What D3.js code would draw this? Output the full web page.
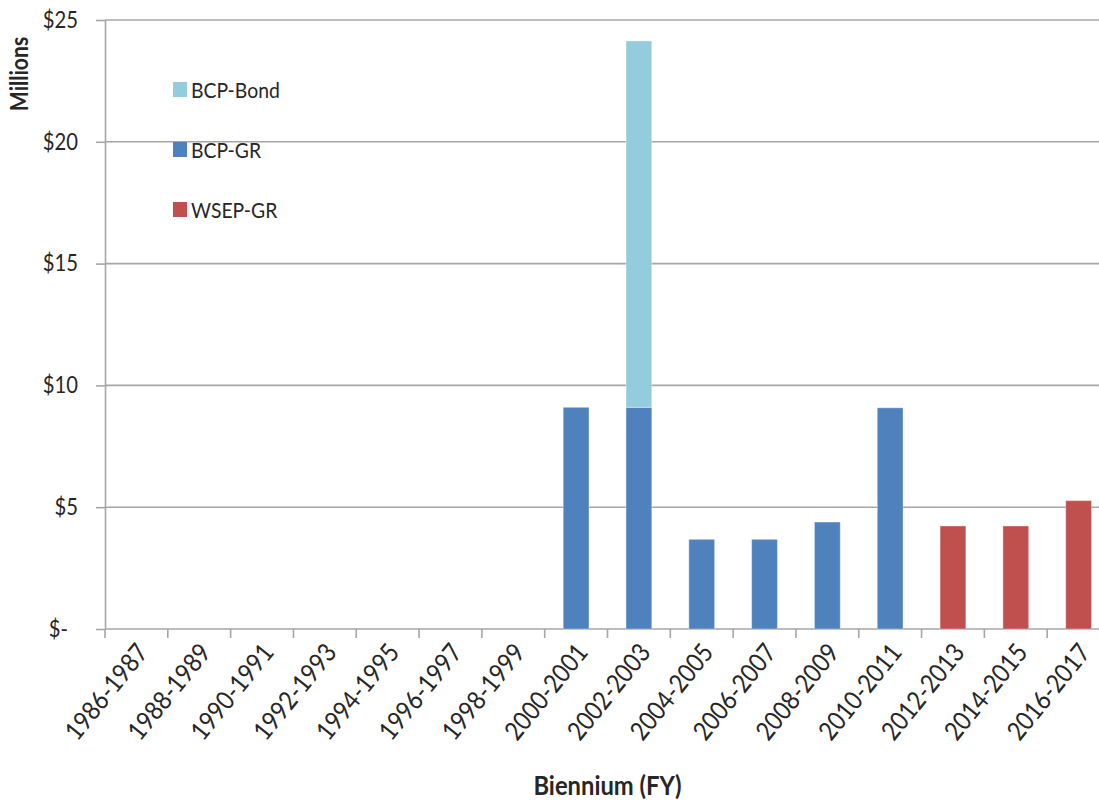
<!DOCTYPE html>
<html>
<head>
<meta charset="utf-8">
<script src="https://cdn.jsdelivr.net/npm/d3@7"></script>
<style>
  html, body { margin: 0; padding: 0; background: #ffffff; }
  svg { display: block; }
  text { font-family: Lato, "Open Sans", sans-serif; fill: #262626; }
</style>
</head>
<body>
<svg id="chart" width="1099" height="801"></svg>
<script>
// Biennia on the x axis
const categories = [
  "1986-1987", "1988-1989", "1990-1991", "1992-1993", "1994-1995",
  "1996-1997", "1998-1999", "2000-2001", "2002-2003", "2004-2005",
  "2006-2007", "2008-2009", "2010-2011", "2012-2013", "2014-2015",
  "2016-2017"
];
// Funding by source, $ millions
const bcpGR   = [0, 0, 0, 0, 0, 0, 0, 9.10, 9.10, 3.68, 3.68, 4.39, 9.08, 0, 0, 0];
const bcpBond = [0, 0, 0, 0, 0, 0, 0, 0, 15.04, 0, 0, 0, 0, 0, 0, 0];
const wsepGR  = [0, 0, 0, 0, 0, 0, 0, 0, 0, 0, 0, 0, 0, 4.23, 4.23, 5.27];

const seriesNames = ["BCP-GR", "BCP-Bond", "WSEP-GR"];
const legendOrder = ["BCP-Bond", "BCP-GR", "WSEP-GR"];
const yTicks = [0, 5, 10, 15, 20, 25];

const colors = { "BCP-Bond": "#93cddd", "BCP-GR": "#4f81bd", "WSEP-GR": "#c0504d" };

const svg = d3.select("#chart");
const W = 1099;
const plotLeft = 105, plotBottom = 629, plotTop = 20, plotRight = 1110;
const condense = "scale(0.88,1)";   // narrow the glyphs a little

const x = d3.scaleBand().domain(categories)
  .range([plotLeft, plotRight]).paddingInner(0.59).paddingOuter(0.295);
const y = d3.scaleLinear().domain([0, 25]).range([plotBottom, plotTop]);

const grid = "#a6a6a6";

// horizontal gridlines
svg.append("g")
  .selectAll("line").data(yTicks.filter(d => d > 0)).join("line")
  .attr("x1", plotLeft).attr("x2", W)
  .attr("y1", d => y(d)).attr("y2", d => y(d))
  .attr("stroke", grid).attr("stroke-width", 1.6);

// y axis with tick marks and currency labels
const yAxis = svg.append("g").attr("transform", `translate(${plotLeft},0)`)
  .call(d3.axisLeft(y).tickValues(yTicks).tickSize(9).tickSizeOuter(0)
    .tickFormat(d => d === 0 ? "$-" : "$" + d));
yAxis.select(".domain").attr("stroke", grid).attr("stroke-width", 1.6);
yAxis.selectAll(".tick line").attr("stroke", grid).attr("stroke-width", 1.6);
yAxis.selectAll(".tick text")
  .attr("x", 0)
  .attr("transform", d => `translate(${d === 0 ? -37 : -27},0) ${condense}`)
  .attr("font-size", 23).attr("font-family", "Lato, sans-serif")
  .attr("fill", "#262626");

// x axis baseline
svg.append("line").attr("x1", plotLeft).attr("x2", W)
  .attr("y1", plotBottom).attr("y2", plotBottom)
  .attr("stroke", grid).attr("stroke-width", 1.6);

// tick marks at band boundaries
const step = x.step();
svg.append("g").selectAll("line")
  .data(d3.range(categories.length + 1)).join("line")
  .attr("x1", i => plotLeft + i * step).attr("x2", i => plotLeft + i * step)
  .attr("y1", plotBottom).attr("y2", plotBottom + 9)
  .attr("stroke", grid).attr("stroke-width", 1.6);

// rotated category labels
svg.append("g").selectAll("text").data(categories).join("text")
  .attr("transform", d => `translate(${x(d) + x.bandwidth() / 2 + 13},${plotBottom + 24}) rotate(-51) ${condense}`)
  .attr("text-anchor", "end")
  .attr("font-size", 26)
  .text(d => d);

// stacked bars
const rows = categories.map((c, i) => ({
  cat: c, "BCP-GR": bcpGR[i], "BCP-Bond": bcpBond[i], "WSEP-GR": wsepGR[i]
}));
const stacked = d3.stack().keys(seriesNames)(rows);

svg.append("g").selectAll("g").data(stacked).join("g")
  .attr("fill", s => colors[s.key])
  .selectAll("rect").data(s => s.filter(p => p[1] - p[0] > 0)).join("rect")
  .attr("x", p => x(p.data.cat))
  .attr("width", x.bandwidth())
  .attr("y", p => y(p[1]))
  .attr("height", p => y(p[0]) - y(p[1]))
  .attr("stroke", "rgba(255,255,255,0.35)").attr("stroke-width", 1);

// legend
const lg = svg.append("g").selectAll("g").data(legendOrder).join("g")
  .attr("transform", (d, i) => `translate(173,${82 + i * 60})`);
lg.append("rect").attr("width", 14).attr("height", 15)
  .attr("fill", d => colors[d]);
lg.append("text").attr("transform", `translate(18,16) ${condense}`)
  .attr("font-size", 22).text(d => d);

// axis titles
svg.append("text")
  .attr("transform", `translate(28,74) rotate(-90) ${condense}`)
  .attr("text-anchor", "middle").attr("font-size", 24).attr("font-weight", "bold")
  .text("Millions");
svg.append("text")
  .attr("transform", `translate(${(plotLeft + plotRight) / 2},795) ${condense}`)
  .attr("text-anchor", "middle").attr("font-size", 27).attr("font-weight", "bold")
  .text("Biennium (FY)");
</script>
</body>
</html>
